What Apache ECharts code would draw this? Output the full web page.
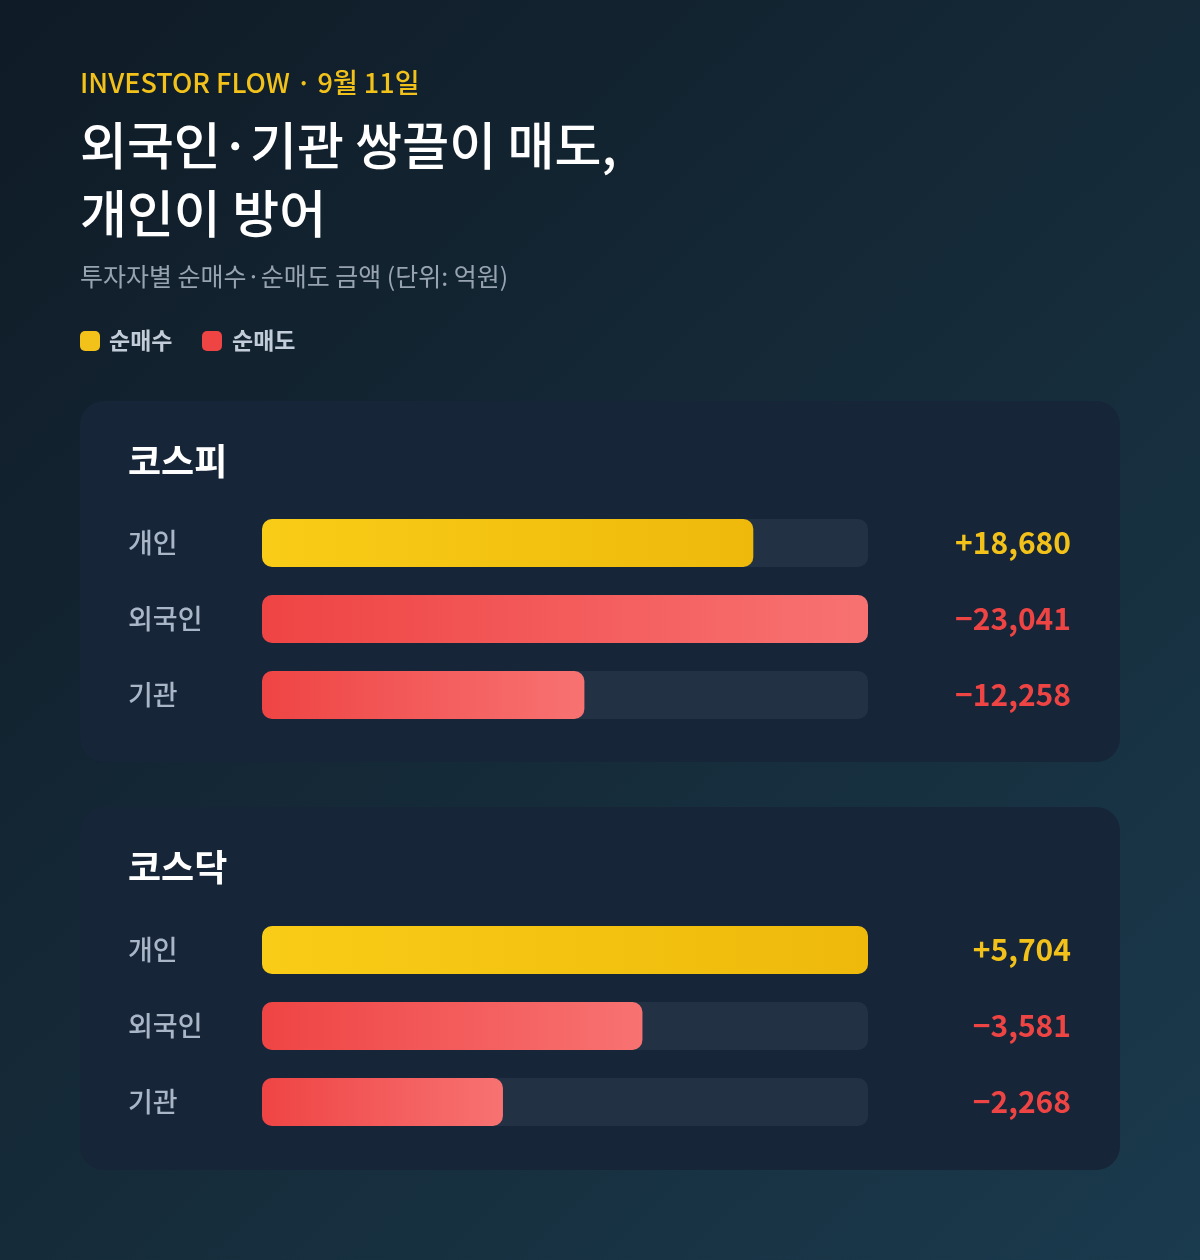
<!DOCTYPE html>
<html>
<head>
<meta charset="utf-8">
<script src="https://cdn.jsdelivr.net/npm/echarts@6/dist/echarts.min.js"></script>
<style>
  html, body { margin: 0; padding: 0; background: #12202c; }
  #chart { width: 1200px; height: 1260px; }
</style>
</head>
<body>
<div id="chart"></div>
<script>
var FONT = '"Noto Sans CJK KR", "Noto Sans", sans-serif';

// 데이터 (단위: 억원)
var investors = ['개인', '외국인', '기관'];
var kospiValues = [18680, -23041, -12258];
var kosdaqValues = [5704, -3581, -2268];
var panelTitles = ['코스피', '코스닥'];
var legendNames = ['순매수', '순매도'];

var YELLOW = '#f2c21a';
var RED = '#ef4444';

function fmt(v) {
    var s = Math.abs(v).toLocaleString('en-US');
    return (v >= 0 ? '+' : '\u2212') + s;
}

function barItem(v) {
    var stops = v >= 0
        ? [{offset: 0, color: '#f9cc17'}, {offset: 1, color: '#eeb90b'}]
        : [{offset: 0, color: '#ef4444'}, {offset: 1, color: '#f87272'}];
    return {
        value: Math.abs(v),
        itemStyle: {
            color: new echarts.graphic.LinearGradient(0, 0, 1, 0, stops),
            borderRadius: 10
        }
    };
}

function panelMax(values) {
    return Math.max.apply(null, values.map(Math.abs));
}

var rowsTop = [505, 912];
var allValues = [kospiValues, kosdaqValues];

var grids = [], xAxes = [], yAxes = [], series = [];
allValues.forEach(function (vals, i) {
    grids.push({left: 262, width: 606, top: rowsTop[i], height: 228});
    xAxes.push({
        gridIndex: i, type: 'value', min: 0, max: panelMax(vals),
        show: false
    });
    // 왼쪽: 투자자 이름
    yAxes.push({
        gridIndex: i, type: 'category', data: investors, inverse: true,
        axisLine: {show: false}, axisTick: {show: false}, splitLine: {show: false},
        axisLabel: {
            align: 'left', margin: 134,
            color: '#a8b6c7', fontSize: 27, fontWeight: 500, fontFamily: FONT
        }
    });
    // 오른쪽: 금액
    yAxes.push({
        gridIndex: i, type: 'category', position: 'right', inverse: true,
        data: vals.map(fmt),
        axisLine: {show: false}, axisTick: {show: false}, splitLine: {show: false},
        axisLabel: {
            align: 'right', margin: 203, fontFamily: FONT,
            formatter: function (val) {
                return val.charAt(0) === '+' ? '{p|' + val + '}' : '{n|' + val + '}';
            },
            rich: {
                p: {color: YELLOW, fontSize: 30, fontWeight: 'bold', fontFamily: FONT},
                n: {color: RED, fontSize: 30, fontWeight: 'bold', fontFamily: FONT}
            }
        }
    });
    series.push({
        type: 'bar', xAxisIndex: i, yAxisIndex: i * 2,
        barWidth: 48,
        showBackground: true,
        backgroundStyle: {color: '#223143', borderRadius: 10},
        data: vals.map(barItem),
        silent: true
    });
});

var chart = echarts.init(document.getElementById('chart'));
chart.setOption({
    animation: false,
    grid: grids,
    xAxis: xAxes,
    yAxis: yAxes,
    series: series,
    graphic: [
        {
            type: 'rect', z: -10, silent: true,
            shape: {x: 0, y: 0, width: 1200, height: 1260},
            style: {
                fill: new echarts.graphic.LinearGradient(0, 0, 1, 1, [
                    {offset: 0, color: '#0f1b26'},
                    {offset: 0.5, color: '#152a38'},
                    {offset: 1, color: '#1a3a4d'}
                ])
            }
        },
        {
            type: 'rect', z: -9, silent: true,
            shape: {x: 80, y: 401, width: 1040, height: 361, r: 24},
            style: {fill: '#172538'}
        },
        {
            type: 'rect', z: -9, silent: true,
            shape: {x: 80, y: 807, width: 1040, height: 363, r: 24},
            style: {fill: '#172538'}
        },
        {
            type: 'text', left: 80, top: 69,
            style: {text: 'INVESTOR FLOW · 9월 11일', fill: YELLOW, font: '500 27px ' + FONT}
        },
        {
            type: 'text', left: 80, top: 112,
            style: {
                text: '외국인·기관 쌍끌이 매도,\n개인이 방어',
                fill: '#ffffff', font: '500 51px ' + FONT, lineHeight: 68
            }
        },
        {
            type: 'text', left: 80, top: 264,
            style: {text: '투자자별 순매수·순매도 금액 (단위: 억원)', fill: '#97a3b1', font: '400 25px ' + FONT}
        },
        {
            type: 'rect', shape: {x: 80, y: 331, width: 20, height: 20, r: 5},
            style: {fill: YELLOW}
        },
        {
            type: 'text', left: 109, top: 329,
            style: {text: legendNames[0], fill: '#c3cdd9', font: 'bold 23px ' + FONT}
        },
        {
            type: 'rect', shape: {x: 202, y: 331, width: 20, height: 20, r: 5},
            style: {fill: RED}
        },
        {
            type: 'text', left: 232, top: 329,
            style: {text: legendNames[1], fill: '#c3cdd9', font: 'bold 23px ' + FONT}
        },
        {
            type: 'text', left: 128, top: 443,
            style: {text: panelTitles[0], fill: '#ffffff', font: 'bold 36px ' + FONT}
        },
        {
            type: 'text', left: 128, top: 849,
            style: {text: panelTitles[1], fill: '#ffffff', font: 'bold 36px ' + FONT}
        }
    ]
});
</script>
</body>
</html>
